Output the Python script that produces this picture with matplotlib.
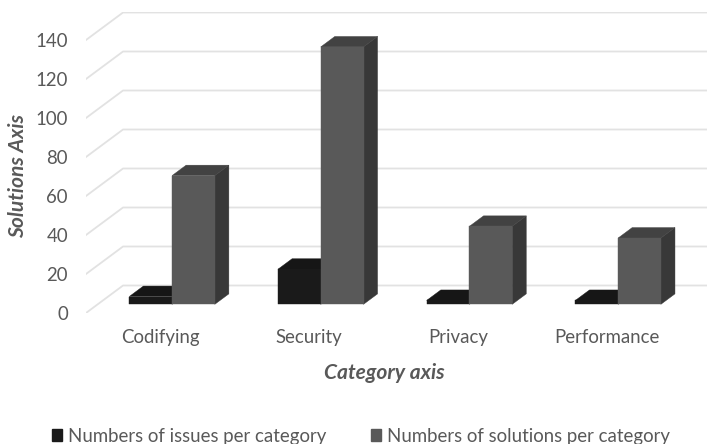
import matplotlib
matplotlib.use("Agg")
import matplotlib.pyplot as plt
from matplotlib.patches import Patch

categories = ["Codifying", "Security", "Privacy", "Performance"]
issues = [4, 18, 2, 2]
solutions = [66, 132, 40, 34]
y_ticks = [0, 20, 40, 60, 80, 100, 120, 140]
series_names = ["Numbers of issues per category", "Numbers of solutions per category"]

W, H = 707, 444
plt.rcParams["font.family"] = ["Lato", "DejaVu Sans"]
TEXT = "#595959"
GRID = "#e2e2e2"
LABEL_SIZE = 13.4
TITLE_SIZE = 14.8

fig = plt.figure(figsize=(W / 100, H / 100), dpi=100, facecolor="white")
# Axes run from the front-left corner of the floor to the right edge of the figure.
ax = fig.add_axes([86 / W, 1 - 313 / H, (W - 86) / W, (313 - 12) / H])
ax.set_xlim(0, (W - 86) / 148.7)
ax.set_ylim(0, 301 / 1.95)
ax.patch.set_visible(False)
for s in ax.spines.values():
    s.set_visible(False)

# Oblique projection: depth 0 is the front of the chart box, depth 1 the back wall.
DX, DV = 0.249, 14.1


def proj(x, v, d):
    return x + d * DX, v + d * DV


def face(points, color, z):
    pts = [proj(*p) for p in points]
    ax.fill([p[0] for p in pts], [p[1] for p in pts], color=color, lw=0.3, zorder=z)


def bar3d(x0, x1, v, colors, z):
    d0, d1 = 0.316, 0.696
    front, top, side = colors
    face([(x1, 0, d0), (x1, 0, d1), (x1, v, d1), (x1, v, d0)], side, z)
    face([(x0, v, d0), (x1, v, d0), (x1, v, d1), (x0, v, d1)], top, z)
    face([(x0, 0, d0), (x1, 0, d0), (x1, v, d0), (x0, v, d0)], front, z + 0.1)


# Side wall and back wall gridlines
xmax = ax.get_xlim()[1]
for v in y_ticks:
    xs = [proj(0, v, 0)[0], proj(0, v, 1)[0], xmax + 0.5]
    back = proj(0, v, 1)[1]
    ax.plot(xs, [v, back, back], color=GRID, lw=1.3, zorder=1, solid_joinstyle="round")

BAR = 0.2875
BLACK = ("#1a1a1a", "#161616", "#141414")
GRAY = ("#595959", "#424242", "#383838")
for i in range(len(categories)):
    c = i + 0.5
    bar3d(c - BAR, c, issues[i], BLACK, 2)
    bar3d(c, c + BAR, solutions[i], GRAY, 3)

ax.set_xticks([i + 0.5 for i in range(len(categories))], categories)
ax.set_yticks(y_ticks)
ax.tick_params(axis="both", length=0, labelcolor=TEXT, labelsize=LABEL_SIZE)
ax.tick_params(axis="y", pad=13)
ax.tick_params(axis="x", pad=11.5)

fig.text(384 / W, 1 - 373 / H, "Category axis", ha="center", va="center",
         color=TEXT, fontsize=TITLE_SIZE + 0.3, fontweight="bold", fontstyle="italic")
fig.text(18 / W, 1 - 176 / H, "Solutions Axis", ha="center", va="center", rotation=90,
         color=TEXT, fontsize=TITLE_SIZE + 0.3, fontweight="bold", fontstyle="italic")

handles = [Patch(color=BLACK[0]), Patch(color=GRAY[0])]
fig.legend(handles, series_names, ncol=2, frameon=False, labelcolor=TEXT, fontsize=LABEL_SIZE,
           loc="center left", bbox_to_anchor=(52 / W, 1 - 436 / H),
           handlelength=0.55, handleheight=0.55, handletextpad=0.3, columnspacing=2.4,
           borderpad=0, borderaxespad=0)

fig.savefig("out.png", dpi=100)
